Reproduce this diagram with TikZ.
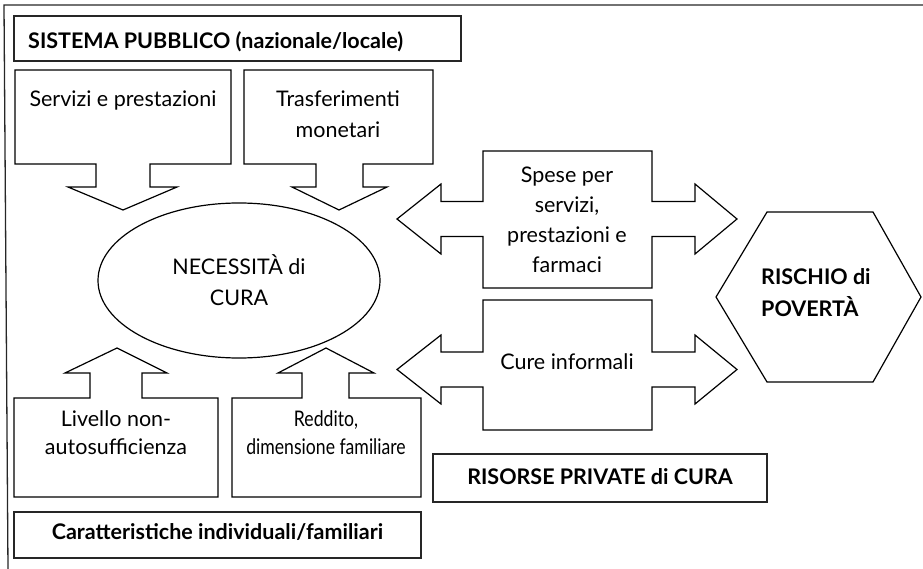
\documentclass[tikz,border=0pt]{standalone}
\usepackage{fontspec}
\setmainfont{Lato}
\usepackage{graphicx}
\begin{document}
\begin{tikzpicture}[x=1pt,y=-1pt,
  frame/.style={draw=black!85, line width=1.3pt},
  boxline/.style={draw=black!85, line width=1.5pt},
  callout/.style={draw=black, line width=1.2pt, line join=miter},
  txt/.style={font=\fontsize{21.5}{30}\selectfont, align=center, anchor=base, inner sep=0pt},
  btxt/.style={font=\bfseries\fontsize{21.5}{32}\selectfont, align=center, anchor=base, inner sep=0pt}]
\useasboundingbox (0,0) rectangle (923,569);
% outer frame (top and left only)
\draw[frame] (923,5) -- (4,5) -- (8,569);
% top boxes
\draw[boxline] (14,16) rectangle (461,61);
\node[btxt, anchor=base west] (sistema) at (28,49) {SISTEMA PUBBLICO (nazionale/locale)};
% Servizi callout (down arrow)
\draw[callout] (15,70) -- (231,70) -- (231,164) -- (150,164) -- (150,187) -- (177,187) -- (123,210)
  -- (68,187) -- (96,187) -- (96,164) -- (15,164) -- cycle;
\node[txt] (servizi) at (123,107) {Servizi e prestazioni};
% Trasferimenti callout
\draw[callout] (244,70) -- (433,70) -- (433,164) -- (363,164) -- (363,187) -- (387,187) -- (339,210)
  -- (292,187) -- (316,187) -- (316,164) -- (244,164) -- cycle;
\node[txt] (trasf) at (338,138) {Trasferimenti\\[1pt]monetari};
% ellipse
\draw[callout] (239,280.5) ellipse [x radius=141, y radius=77.5];
\node[txt] (nec) at (239,305) {NECESSITÀ di\\CURA};
% bottom callouts (up arrows)
\draw[callout] (14,497) -- (14,398) -- (90,398) -- (90,373) -- (65,373) -- (117,348) -- (167,373)
  -- (142,373) -- (142,398) -- (218,398) -- (218,497) -- cycle;
\node[txt] (livello) at (116,454) {Livello non-\\[-2.5pt]autosufficienza};
\draw[callout] (232,497) -- (232,398) -- (302,398) -- (302,373) -- (278,373) -- (326,348) -- (374,373)
  -- (349,373) -- (349,398) -- (421,398) -- (421,497) -- cycle;
\node[txt] (reddito) at (326,454) {\scalebox{0.82}[1]{Reddito,}\\[-2.5pt]\scalebox{0.82}[1]{dimensione familiare}};
\draw[boxline] (14,512) rectangle (421,558);
\node[btxt] (caratt) at (217.5,539) {Caratteristiche individuali/familiari};
% Spese double arrow
\draw[callout] (483,151) -- (652,151) -- (652,201.5) -- (695,201.5) -- (695,184) -- (737,219)
  -- (695,254) -- (695,236.5) -- (652,236.5) -- (652,288) -- (483,288) -- (483,236.5) -- (441,236.5)
  -- (441,254) -- (397,219) -- (441,184) -- (441,201.5) -- (483,201.5) -- cycle;
\node[txt] (spese) at (567,272.5) {Spese per\\servizi,\\prestazioni e\\farmaci};
% Cure double arrow
\draw[callout] (483,300) -- (652,300) -- (652,352) -- (695,352) -- (695,335) -- (737,369.5)
  -- (695,404) -- (695,387) -- (652,387) -- (652,430) -- (483,430) -- (483,387) -- (441,387)
  -- (441,404) -- (397,369.5) -- (441,335) -- (441,352) -- (483,352) -- cycle;
\node[txt] (cure) at (567,369.5) {Cure informali};
% hexagon
\draw[callout] (716,297) -- (767,212) -- (873,212) -- (921,297) -- (873,382) -- (767,382) -- cycle;
\node[btxt, align=left, anchor=base west] (rischio) at (761,316.5) {RISCHIO di\\POVERTÀ};
% Risorse box
\draw[boxline] (433,454) rectangle (767,502);
\node[btxt] (risorse) at (600,484) {RISORSE PRIVATE di CURA};
\end{tikzpicture}
\end{document}
